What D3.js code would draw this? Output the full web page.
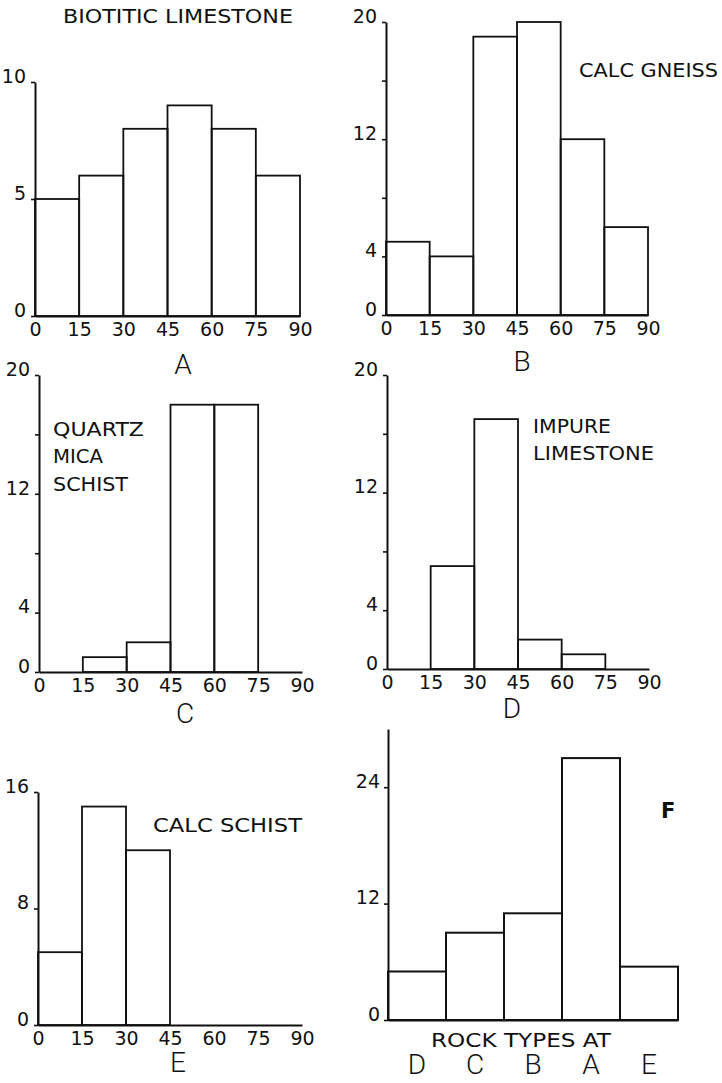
<!DOCTYPE html>
<html lang="en">
<head>
<meta charset="UTF-8">
<title>Orientation frequency by rock type</title>
<script src="https://d3js.org/d3.v7.min.js"></script>
<style>
  body { margin: 0; background: #fff; }
  .num text { font-family: "DejaVu Sans", sans-serif; font-size: 19px; fill: #111; }
  .note { font-family: "DejaVu Sans", sans-serif; font-size: 19px; fill: #111; }
  .letter, .big text { font-family: Roboto, "DejaVu Sans", sans-serif; font-weight: 300; font-size: 28px; fill: #111; }
</style>
</head>
<body>
<svg id="chart" width="722" height="1083"></svg>
<script>
// class limits (degrees) shared by panels A-E
var binEdges = [0, 15, 30, 45, 60, 75, 90];

// frequency in each class
var countsA = [5, 6, 8, 9, 8, 6];
var countsB = [5, 4, 19, 20, 12, 6];
var countsC = [0, 1, 2, 18, 18, 0];
var countsD = [0, 7, 17, 2, 1, 0];
var countsE = [5, 15, 12, 0, 0, 0];

// panel F: one bar per rock type
var rockTypes = ["D", "C", "B", "A", "E"];
var countsF = [5, 9, 11, 27, 5.5];

// y ticks and which of them carry a number
var ticksA = [0, 5, 10];
var ticksBCD = [0, 4, 8, 12, 16, 20];
var labelsBCD = [0, 4, 12, 20];
var ticksE = [0, 8, 16];
var ticksF = [0, 12, 24];

var svg = d3.select("#chart");

// where each panel sits on the page
var panels = [
  { counts: countsA, yMax: 10, ticks: ticksA, labels: ticksA, left: 35, right: 300, base: 316, top: 82,
    letter: "A", lx: 183, ly: 374,
    notes: [{ t: "BIOTITIC LIMESTONE", x: 63, y: 23, w: 230 }] },
  { counts: countsB, yMax: 20, ticks: ticksBCD, labels: labelsBCD, left: 386, right: 648, base: 315, top: 22,
    letter: "B", lx: 522, ly: 371,
    notes: [{ t: "CALC GNEISS", x: 579, y: 77, w: 139 }] },
  { counts: countsC, yMax: 20, ticks: ticksBCD, labels: labelsBCD, left: 39, right: 302, base: 672, top: 375,
    letter: "C", lx: 185, ly: 723,
    notes: [{ t: "QUARTZ", x: 53, y: 436, w: 91 }, { t: "MICA", x: 53, y: 463, w: 50 }, { t: "SCHIST", x: 53, y: 491, w: 75 }] },
  { counts: countsD, yMax: 20, ticks: ticksBCD, labels: labelsBCD, left: 387, right: 649, base: 669, top: 375,
    letter: "D", lx: 512, ly: 718,
    notes: [{ t: "IMPURE", x: 533, y: 433, w: 78 }, { t: "LIMESTONE", x: 533, y: 460, w: 121 }] },
  { counts: countsE, yMax: 16, ticks: ticksE, labels: ticksE, left: 38, right: 302, base: 1025, top: 792,
    letter: "E", lx: 178, ly: 1072,
    notes: [{ t: "CALC SCHIST", x: 153, y: 832, w: 149 }] }
];

function styleAxis(g) {
  g.attr("font-family", null).attr("font-size", null);
  g.select(".domain").attr("stroke", "#111").attr("stroke-width", 2);
  g.selectAll(".tick line").attr("stroke", "#111").attr("stroke-width", 1.6);
}

function addNotes(notes) {
  notes.forEach(function(n) {
    svg.append("text").attr("class", "note")
       .attr("x", n.x).attr("y", n.y)
       .attr("textLength", n.w).attr("lengthAdjust", "spacingAndGlyphs")
       .text(n.t);
  });
}

panels.forEach(function(p) {
  var x = d3.scaleLinear().domain([0, 90]).range([p.left, p.right]);
  var y = d3.scaleLinear().domain([0, p.yMax]).range([p.base, p.top]);

  var bins = p.counts.map(function(c, i) { return { c: c, lo: binEdges[i], hi: binEdges[i + 1] }; })
                     .filter(function(d) { return d.c > 0; });

  svg.append("g").selectAll("rect")
     .data(bins)
     .enter().append("rect")
     .attr("x", d => x(d.lo))
     .attr("width", d => x(d.hi) - x(d.lo))
     .attr("y", d => y(d.c))
     .attr("height", d => y(0) - y(d.c))
     .attr("fill", "none")
     .attr("stroke", "#111")
     .attr("stroke-width", 1.8);

  var ya = svg.append("g")
     .attr("class", "num")
     .attr("transform", "translate(" + p.left + ",0)")
     .call(d3.axisLeft(y).tickValues(p.ticks).tickSize(4).tickSizeOuter(0).tickPadding(5)
            .tickFormat(v => p.labels.indexOf(v) >= 0 ? v : ""));
  styleAxis(ya);
  ya.selectAll("text").attr("dy", "0.02em");

  var xa = svg.append("g")
     .attr("class", "num")
     .attr("transform", "translate(0," + p.base + ")")
     .call(d3.axisBottom(x).tickValues(binEdges).tickSize(0).tickSizeOuter(0).tickPadding(7));
  styleAxis(xa);

  svg.append("text").attr("class", "letter")
     .attr("x", p.lx).attr("y", p.ly).attr("text-anchor", "middle")
     .text(p.letter);

  addNotes(p.notes);
});

// panel F
var xF = d3.scaleBand().domain(rockTypes).range([388, 678]).padding(0);
var yF = d3.scaleLinear().domain([0, 30]).range([1020, 729]);

svg.append("g").selectAll("rect")
   .data(rockTypes.map((r, i) => ({ r: r, c: countsF[i] })))
   .enter().append("rect")
   .attr("x", d => xF(d.r))
   .attr("width", xF.bandwidth())
   .attr("y", d => yF(d.c))
   .attr("height", d => yF(0) - yF(d.c))
   .attr("fill", "none")
   .attr("stroke", "#111")
   .attr("stroke-width", 2);

var yaF = svg.append("g")
   .attr("class", "num")
   .attr("transform", "translate(388,0)")
   .call(d3.axisLeft(yF).tickValues(ticksF).tickSize(4).tickSizeOuter(0).tickPadding(4));
styleAxis(yaF);
yaF.selectAll("text").attr("dy", "0.02em");

var xaF = svg.append("g")
   .attr("class", "big")
   .attr("transform", "translate(0,1020)")
   .call(d3.axisBottom(xF).tickSize(0).tickSizeOuter(0).tickPadding(34));
styleAxis(xaF);

addNotes([{ t: "ROCK TYPES AT", x: 431, y: 1047, w: 180 }]);

svg.append("text")
   .attr("x", 661).attr("y", 818)
   .attr("font-family", "DejaVu Sans, sans-serif")
   .attr("font-weight", "bold")
   .attr("font-size", 21)
   .attr("fill", "#111")
   .text("F");
</script>
</body>
</html>
